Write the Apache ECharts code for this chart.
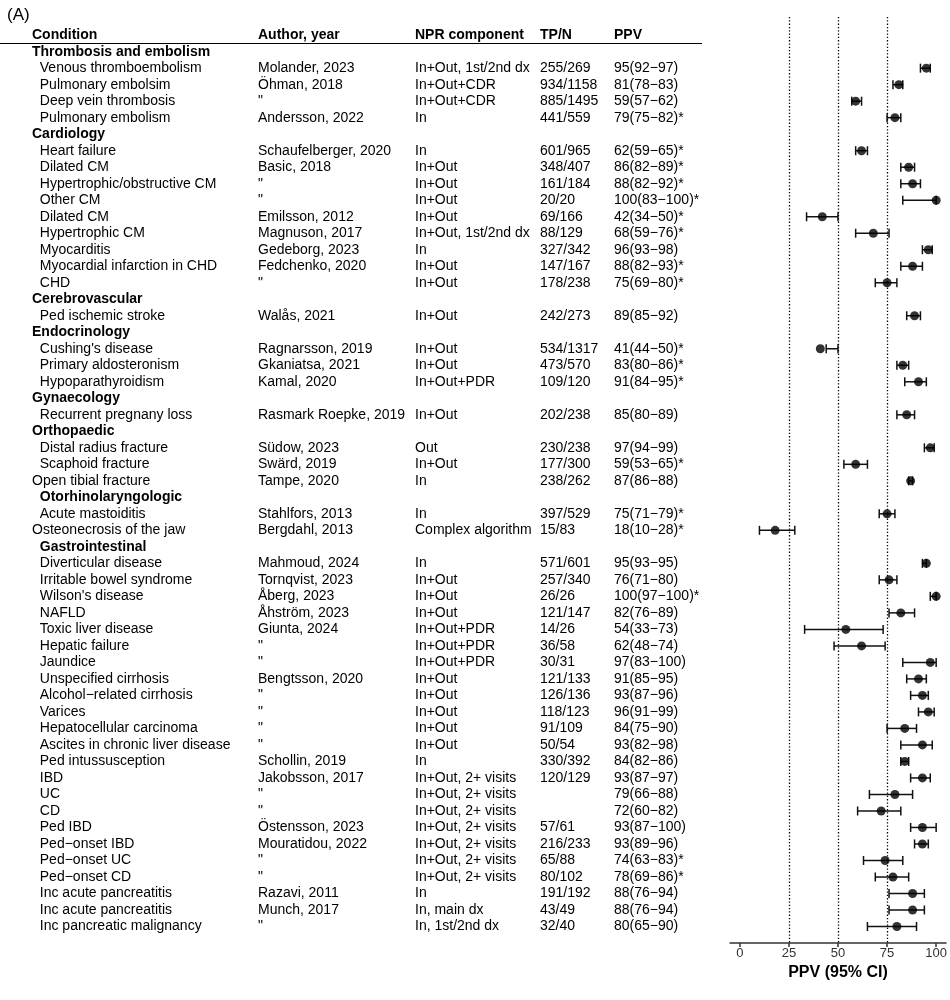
<!DOCTYPE html>
<html>
<head>
<meta charset="utf-8">
<script src="https://cdn.jsdelivr.net/npm/echarts@6/dist/echarts.min.js"></script>
<style>html,body{margin:0;padding:0;background:#fff}#chart{width:950px;height:1000px}</style>
</head>
<body>
<div id="chart"></div>
<script>
// ---------- DATA ----------
const headers = ['Condition', 'Author, year', 'NPR component', 'TP/N', 'PPV'];

const conditions = [
  'Thrombosis and embolism',
  '  Venous thromboembolism', '  Pulmonary embolsim', '  Deep vein thrombosis', '  Pulmonary embolism',
  'Cardiology',
  '  Heart failure', '  Dilated CM', '  Hypertrophic/obstructive CM', '  Other CM', '  Dilated CM',
  '  Hypertrophic CM', '  Myocarditis', '  Myocardial infarction in CHD', '  CHD',
  'Cerebrovascular',
  '  Ped ischemic stroke',
  'Endocrinology',
  "  Cushing's disease", '  Primary aldosteronism', '  Hypoparathyroidism',
  'Gynaecology',
  '  Recurrent pregnany loss',
  'Orthopaedic',
  '  Distal radius fracture', '  Scaphoid fracture', 'Open tibial fracture',
  '  Otorhinolaryngologic',
  '  Acute mastoiditis', 'Osteonecrosis of the jaw',
  '  Gastrointestinal',
  '  Diverticular disease', '  Irritable bowel syndrome', "  Wilson's disease", '  NAFLD',
  '  Toxic liver disease', '  Hepatic failure', '  Jaundice', '  Unspecified cirrhosis',
  '  Alcohol\u2212related cirrhosis', '  Varices', '  Hepatocellular carcinoma',
  '  Ascites in chronic liver disease', '  Ped intussusception', '  IBD', '  UC', '  CD',
  '  Ped IBD', '  Ped\u2212onset IBD', '  Ped\u2212onset UC', '  Ped\u2212onset CD',
  '  Inc acute pancreatitis', '  Inc acute pancreatitis', '  Inc pancreatic malignancy'
];

const authors = [
  '',
  'Molander, 2023', '\u00d6hman, 2018', '"', 'Andersson, 2022',
  '',
  'Schaufelberger, 2020', 'Basic, 2018', '"', '"', 'Emilsson, 2012',
  'Magnuson, 2017', 'Gedeborg, 2023', 'Fedchenko, 2020', '"',
  '',
  'Wal\u00e5s, 2021',
  '',
  'Ragnarsson, 2019', 'Gkaniatsa, 2021', 'Kamal, 2020',
  '',
  'Rasmark Roepke, 2019',
  '',
  'S\u00fcdow, 2023', 'Sw\u00e4rd, 2019', 'Tampe, 2020',
  '',
  'Stahlfors, 2013', 'Bergdahl, 2013',
  '',
  'Mahmoud, 2024', 'Tornqvist, 2023', '\u00c5berg, 2023', '\u00c5hstr\u00f6m, 2023',
  'Giunta, 2024', '"', '"', 'Bengtsson, 2020',
  '"', '"', '"',
  '"', 'Schollin, 2019', 'Jakobsson, 2017', '"', '"',
  '\u00d6stensson, 2023', 'Mouratidou, 2022', '"', '"',
  'Razavi, 2011', 'Munch, 2017', '"'
];

const components = [
  '',
  'In+Out, 1st/2nd dx', 'In+Out+CDR', 'In+Out+CDR', 'In',
  '',
  'In', 'In+Out', 'In+Out', 'In+Out', 'In+Out',
  'In+Out, 1st/2nd dx', 'In', 'In+Out', 'In+Out',
  '',
  'In+Out',
  '',
  'In+Out', 'In+Out', 'In+Out+PDR',
  '',
  'In+Out',
  '',
  'Out', 'In+Out', 'In',
  '',
  'In', 'Complex algorithm',
  '',
  'In', 'In+Out', 'In+Out', 'In+Out',
  'In+Out+PDR', 'In+Out+PDR', 'In+Out+PDR', 'In+Out',
  'In+Out', 'In+Out', 'In+Out',
  'In+Out', 'In', 'In+Out, 2+ visits', 'In+Out, 2+ visits', 'In+Out, 2+ visits',
  'In+Out, 2+ visits', 'In+Out, 2+ visits', 'In+Out, 2+ visits', 'In+Out, 2+ visits',
  'In', 'In, main dx', 'In, 1st/2nd dx'
];

const tpn = [
  '',
  '255/269', '934/1158', '885/1495', '441/559',
  '',
  '601/965', '348/407', '161/184', '20/20', '69/166',
  '88/129', '327/342', '147/167', '178/238',
  '',
  '242/273',
  '',
  '534/1317', '473/570', '109/120',
  '',
  '202/238',
  '',
  '230/238', '177/300', '238/262',
  '',
  '397/529', '15/83',
  '',
  '571/601', '257/340', '26/26', '121/147',
  '14/26', '36/58', '30/31', '121/133',
  '126/136', '118/123', '91/109',
  '50/54', '330/392', '120/129', '', '',
  '57/61', '216/233', '65/88', '80/102',
  '191/192', '43/49', '32/40'
];

const ppvText = [
  '',
  '95(92\u221297)', '81(78\u221283)', '59(57\u221262)', '79(75\u221282)*',
  '',
  '62(59\u221265)*', '86(82\u221289)*', '88(82\u221292)*', '100(83\u2212100)*', '42(34\u221250)*',
  '68(59\u221276)*', '96(93\u221298)', '88(82\u221293)*', '75(69\u221280)*',
  '',
  '89(85\u221292)',
  '',
  '41(44\u221250)*', '83(80\u221286)*', '91(84\u221295)*',
  '',
  '85(80\u221289)',
  '',
  '97(94\u221299)', '59(53\u221265)*', '87(86\u221288)',
  '',
  '75(71\u221279)*', '18(10\u221228)*',
  '',
  '95(93\u221295)', '76(71\u221280)', '100(97\u2212100)*', '82(76\u221289)',
  '54(33\u221273)', '62(48\u221274)', '97(83\u2212100)', '91(85\u221295)',
  '93(87\u221296)', '96(91\u221299)', '84(75\u221290)',
  '93(82\u221298)', '84(82\u221286)', '93(87\u221297)', '79(66\u221288)', '72(60\u221282)',
  '93(87\u2212100)', '93(89\u221296)', '74(63\u221283)*', '78(69\u221286)*',
  '88(76\u221294)', '88(76\u221294)', '80(65\u221290)'
];

const ppv = [
  null, 95, 81, 59, 79,
  null, 62, 86, 88, 100, 42, 68, 96, 88, 75,
  null, 89,
  null, 41, 83, 91,
  null, 85,
  null, 97, 59, 87,
  null, 75, 18,
  null, 95, 76, 100, 82, 54, 62, 97, 91, 93, 96, 84, 93, 84, 93, 79, 72, 93, 93, 74, 78, 88, 88, 80
];
const ciLow = [
  null, 92, 78, 57, 75,
  null, 59, 82, 82, 83, 34, 59, 93, 82, 69,
  null, 85,
  null, 44, 80, 84,
  null, 80,
  null, 94, 53, 86,
  null, 71, 10,
  null, 93, 71, 97, 76, 33, 48, 83, 85, 87, 91, 75, 82, 82, 87, 66, 60, 87, 89, 63, 69, 76, 76, 65
];
const ciHigh = [
  null, 97, 83, 62, 82,
  null, 65, 89, 92, 100, 50, 76, 98, 93, 80,
  null, 92,
  null, 50, 86, 95,
  null, 89,
  null, 99, 65, 88,
  null, 79, 28,
  null, 95, 80, 100, 89, 73, 74, 100, 95, 96, 99, 90, 98, 86, 97, 88, 82, 100, 96, 83, 86, 94, 94, 90
];

const xTicks = [0, 25, 50, 75, 100];
const refLines = [25, 50, 75];
const axisTitle = 'PPV (95% CI)';
const panelTag = '(A)';

// ---------- LAYOUT ----------
const FONT = '"Liberation Sans", Arial, Helvetica, sans-serif';
const colX = [32, 258, 415, 540, 614];
const columns = [conditions, authors, components, tpn, ppvText];
const isGroup = ppv.map(v => v === null);

function textSeries(colIdx) {
  const texts = columns[colIdx];
  const data = [[colX[colIdx], -1]].concat(texts.map((t, i) => [colX[colIdx], i]));
  return {
    type: 'custom',
    xAxisIndex: 0, yAxisIndex: 0,
    silent: true,
    encode: { x: 0, y: 1 },
    data: data,
    renderItem: function (params, api) {
      const idx = params.dataIndex;
      const row = idx - 1;
      const txt = row < 0 ? headers[colIdx] : texts[row];
      const bold = row < 0 || (colIdx === 0 && isGroup[row]);
      const p = api.coord([api.value(0), api.value(1)]);
      return {
        type: 'text', x: p[0], y: p[1],
        style: {
          text: txt, fill: '#000', fontFamily: FONT, fontSize: 14,
          fontWeight: bold ? 'bold' : 'normal', align: 'left', verticalAlign: 'middle'
        }
      };
    }
  };
}

const errData = [];
const ptData = [];
ppv.forEach((v, i) => {
  if (v !== null) {
    errData.push([ciLow[i], ciHigh[i], i]);
    ptData.push([v, i]);
  }
});

const yCommon = { type: 'value', inverse: true, min: -2.1, max: 54, show: false };

const option = {
  animation: false,
  backgroundColor: '#fff',
  title: {
    text: panelTag, left: 2, top: 2,
    textStyle: { fontFamily: FONT, fontSize: 17, fontWeight: 'normal', color: '#000' }
  },
  grid: [
    { left: 0, width: 730, top: 17, bottom: 57 },
    { left: 730, right: 0, top: 17, bottom: 57 }
  ],
  xAxis: [
    { gridIndex: 0, type: 'value', min: 0, max: 730, show: false },
    {
      gridIndex: 1, type: 'value', min: -5, max: 105, position: 'bottom',
      splitLine: { show: false },
      axisLine: { show: true, onZero: false, lineStyle: { color: '#333', width: 1.5 } },
      axisTick: { show: true, length: 4, lineStyle: { color: '#333', width: 1.5 }, customValues: xTicks },
      axisLabel: { customValues: xTicks, color: '#333', fontFamily: FONT, fontSize: 13, margin: 4 },
      name: axisTitle, nameLocation: 'middle', nameGap: 20,
      nameTextStyle: { fontFamily: FONT, fontSize: 16, fontWeight: 'bold', color: '#000' }
    }
  ],
  yAxis: [
    Object.assign({ gridIndex: 0 }, yCommon),
    Object.assign({ gridIndex: 1 }, yCommon)
  ],
  series: [
    textSeries(0), textSeries(1), textSeries(2), textSeries(3), textSeries(4),
    {
      type: 'line', xAxisIndex: 0, yAxisIndex: 0, data: [], silent: true,
      markLine: {
        silent: true, symbol: 'none', label: { show: false },
        lineStyle: { color: '#000', width: 1.2, type: 'solid' },
        data: [[{ coord: [0, -0.5] }, { coord: [702, -0.5] }]]
      }
    },
    {
      type: 'custom', xAxisIndex: 1, yAxisIndex: 1, silent: true,
      encode: { x: [0, 1], y: 2 },
      data: errData,
      renderItem: function (params, api) {
        const y = api.value(2);
        const a = api.coord([api.value(0), y]);
        const b = api.coord([api.value(1), y]);
        const h = 4.5;
        const st = { stroke: '#111', lineWidth: 1.5 };
        return {
          type: 'group',
          children: [
            { type: 'line', shape: { x1: a[0], y1: a[1], x2: b[0], y2: b[1] }, style: st },
            { type: 'line', shape: { x1: a[0], y1: a[1] - h, x2: a[0], y2: a[1] + h }, style: st },
            { type: 'line', shape: { x1: b[0], y1: b[1] - h, x2: b[0], y2: b[1] + h }, style: st }
          ]
        };
      },
      markLine: {
        silent: true, symbol: 'none', label: { show: false },
        lineStyle: { color: '#000', width: 1.3, type: [1.3, 2] },
        data: refLines.map(v => ({ xAxis: v }))
      }
    },
    {
      type: 'scatter', xAxisIndex: 1, yAxisIndex: 1, silent: true,
      symbol: 'circle', symbolSize: 9,
      itemStyle: { color: '#000' },
      data: ptData, z: 5
    }
  ]
};

const chart = echarts.init(document.getElementById('chart'), null, { renderer: 'canvas' });
chart.setOption(option);
</script>
</body>
</html>
